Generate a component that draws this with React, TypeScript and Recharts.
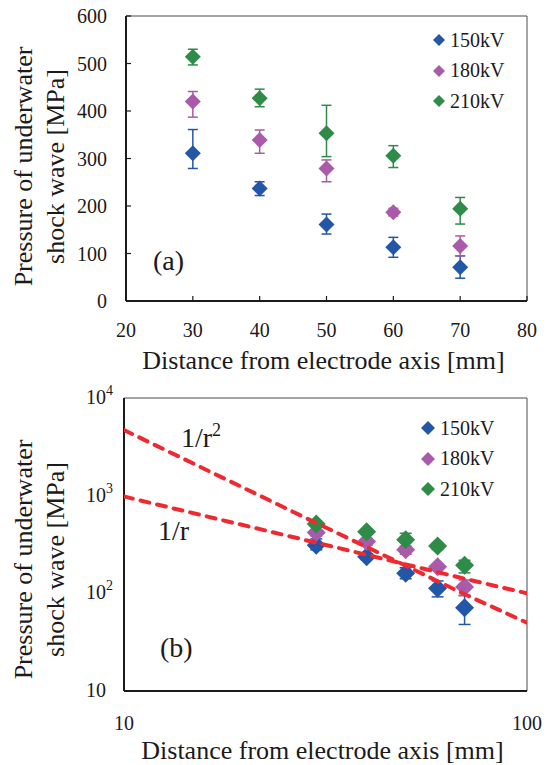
import React from "react"
import {
  ScatterChart, Scatter, XAxis, YAxis, ErrorBar, ReferenceArea, Label, Legend,
} from "recharts"

const FONT = "'Liberation Serif', 'Times New Roman', serif"
const INK = "#1c1a1b"
const RED = "#ee2a30"

// distance from electrode axis [mm]
const distances = [30, 40, 50, 60, 70]

// pressure [MPa] and error bars [minus, plus]
const p150 = [311, 237, 161, 113, 71]
const e150 = [[32, 50], [15, 14], [20, 22], [21, 21], [23, 24]]
const p180 = [420, 339, 279, 187, 116]
const e180 = [[33, 21], [28, 21], [28, 18], [8, 8], [21, 21]]
const p210 = [514, 427, 353, 306, 194]
const e210 = [[17, 16], [18, 19], [49, 59], [25, 21], [32, 24]]

// reference curves in panel (b)
const refDistances = [10, 30, 40, 50, 60, 70, 100]
const invR = [980, 330, 248, 198, 165, 141, 100]
const invR2 = [4700, 525, 298, 192, 133, 98, 50]

const linXTicks = [20, 30, 40, 50, 60, 70, 80]
const linYTicks = [0, 100, 200, 300, 400, 500, 600]
const logXTicks = [10, 100]
const logYTicks = [10, 100, 1000, 10000]

const series = [
  { name: "150kV", color: "#2456a8", values: p150, errors: e150 },
  { name: "180kV", color: "#a95ba9", values: p180, errors: e180 },
  { name: "210kV", color: "#2e8b48", values: p210, errors: e210 },
]

const points = (values: number[], errors: number[][]) =>
  distances.map((x, i) => ({ x, y: values[i], err: errors[i] }))

const refPoints = (values: number[]) => refDistances.map((x, i) => ({ x, y: values[i] }))

const diamond = (r: number) => (props: any) => {
  const { cx, cy, fill } = props
  if (cx == null || cy == null) return <g />
  return <path d={`M${cx},${cy - r}L${cx + r},${cy}L${cx},${cy + r}L${cx - r},${cy}Z`} fill={fill} />
}

const noShape = () => <g />

const textStyle = { fontFamily: FONT, fill: INK }

// label below axis, short tick mark pointing into the plot
const InsideXTick = (props: any) => {
  const { x, y, payload } = props
  const axisY = y - 22
  return (
    <g>
      <line x1={x} y1={axisY} x2={x} y2={axisY - 5} stroke={INK} strokeWidth={1.2} />
      <text x={x} y={y} dy="0.71em" textAnchor="middle" fontSize={20} {...textStyle}>{payload.value}</text>
    </g>
  )
}

const InsideYTick = (props: any) => {
  const { x, y, payload } = props
  const axisX = x + 19
  return (
    <g>
      <line x1={axisX} y1={y} x2={axisX + 5} y2={y} stroke={INK} strokeWidth={1.2} />
      <text x={x} y={y} dy="0.35em" textAnchor="end" fontSize={20} {...textStyle}>{payload.value}</text>
    </g>
  )
}

const LogXTick = (props: any) => {
  const { x, y, payload } = props
  return (
    <text x={x} y={y} dy="0.71em" textAnchor="middle" fontSize={20} {...textStyle}>{payload.value}</text>
  )
}

const LogYTick = (props: any) => {
  const { x, y, payload } = props
  const exp = Math.round(Math.log10(payload.value))
  return (
    <text x={x - 27} y={y} dy="0.3em" textAnchor="start" fontSize={20} {...textStyle}>
      10{exp > 1 && <tspan dy={-9} fontSize={14}>{exp}</tspan>}
    </text>
  )
}

const yTitle = (dy: number) => (props: any) => {
  const { viewBox } = props
  const cy = viewBox.y + viewBox.height / 2 + dy
  return (
    <g>
      <text transform={`translate(${viewBox.x + 23},${cy}) rotate(-90)`} textAnchor="middle" dy="0.35em" fontSize={26} {...textStyle}>
        Pressure of underwater
      </text>
      <text transform={`translate(${viewBox.x + 55},${cy}) rotate(-90)`} textAnchor="middle" dy="0.35em" fontSize={26} {...textStyle}>
        shock wave [MPa]
      </text>
    </g>
  )
}

const xTitle = (props: any) => {
  const { viewBox } = props
  return (
    <text x={viewBox.x + viewBox.width / 2 - 3} y={viewBox.y + 59} dy="0.35em" textAnchor="middle" fontSize={26} {...textStyle}>
      Distance from electrode axis [mm]
    </text>
  )
}

const plotText = (value: React.ReactNode, dx: number, dy: number, fromTop: boolean) => (props: any) => {
  const { viewBox } = props
  const y = fromTop ? viewBox.y + dy : viewBox.y + viewBox.height - dy
  return (
    <text x={viewBox.x + dx} y={y} dy="0.35em" fontSize={28} {...textStyle}>{value}</text>
  )
}

const legendContent = (r: number) => () => (
  <div style={{ fontFamily: FONT, fontSize: 20, color: INK }}>
    {series.map((s) => (
      <div key={s.name} style={{ display: "flex", alignItems: "center", height: 30.5 }}>
        <svg width={r * 2} height={r * 2}>
          <path d={`M${r},0L${r * 2},${r}L${r},${r * 2}L0,${r}Z`} fill={s.color} />
        </svg>
        <span style={{ marginLeft: 5 }}>{s.name}</span>
      </div>
    ))}
  </div>
)

const frameStyle = { fill: "none", fillOpacity: 0, stroke: "#4a4a4a", strokeWidth: 1 }
const axisLine = { stroke: INK, strokeWidth: 2 }

function PanelA() {
  return (
    <ScatterChart width={556} height={380} margin={{ top: 16, right: 29, bottom: 0, left: 0 }}>
      <ReferenceArea x1={20} x2={80} y1={0} y2={600} {...frameStyle} ifOverflow="visible">
        <Label content={plotText("(a)", 27, 41, false)} />
      </ReferenceArea>
      <XAxis
        type="number" dataKey="x" domain={[20, 80]} ticks={linXTicks} interval={0}
        height={79} tickSize={6} tickMargin={16} tickLine={false} axisLine={axisLine}
        tick={<InsideXTick />}
      >
        <Label content={xTitle} />
      </XAxis>
      <YAxis
        type="number" dataKey="y" domain={[0, 600]} ticks={linYTicks} interval={0}
        width={126} tickSize={6} tickMargin={13} tickLine={false} axisLine={axisLine}
        tick={<InsideYTick />}
      >
        <Label content={yTitle(8)} />
      </YAxis>
      <Legend
        layout="horizontal" verticalAlign="middle" align="center"
        wrapperStyle={{ left: 433, top: 25, width: 110 }}
        content={legendContent(6)}
      />
      {series.map((s) => (
        <Scatter key={s.name} name={s.name} data={points(s.values, s.errors)} fill={s.color}
          shape={diamond(8)} isAnimationActive={false}>
          <ErrorBar dataKey="err" direction="y" width={5} stroke={s.color} strokeWidth={1.5} />
        </Scatter>
      ))}
    </ScatterChart>
  )
}

function PanelB() {
  const dashed = { stroke: RED, strokeWidth: 4, strokeDasharray: "9 8", strokeLinecap: "round" as const }
  return (
    <ScatterChart width={556} height={385} margin={{ top: 18, right: 29, bottom: 0, left: 0 }}>
      <ReferenceArea x1={10} x2={100} y1={10} y2={10000} {...frameStyle} ifOverflow="visible">
        <Label content={plotText("(b)", 36, 44, false)} />
        <Label content={plotText(<>1/r<tspan dy={-11} fontSize={18}>2</tspan></>, 57, 39, true)} />
        <Label content={plotText("1/r", 34, 132, true)} />
      </ReferenceArea>
      <XAxis
        type="number" dataKey="x" scale="log" domain={[10, 100]} ticks={logXTicks} interval={0}
        allowDataOverflow height={74} tickSize={6} tickMargin={19} tickLine={false} axisLine={axisLine}
        tick={<LogXTick />}
      >
        <Label content={xTitle} />
      </XAxis>
      <YAxis
        type="number" dataKey="y" scale="log" domain={[10, 10000]} ticks={logYTicks} interval={0}
        allowDataOverflow width={124} tickSize={6} tickMargin={5} tickLine={false} axisLine={axisLine}
        tick={<LogYTick />}
      >
        <Label content={yTitle(15)} />
      </YAxis>
      <Legend
        layout="horizontal" verticalAlign="middle" align="center"
        wrapperStyle={{ left: 421, top: 33, width: 120 }}
        content={legendContent(7)}
      />
      {series.map((s) => (
        <Scatter key={s.name} name={s.name} data={points(s.values, s.errors)} fill={s.color}
          shape={diamond(9.5)} isAnimationActive={false}>
          <ErrorBar dataKey="err" direction="y" width={6} stroke={s.color} strokeWidth={1.5} />
        </Scatter>
      ))}
      <Scatter name="1/r" data={refPoints(invR)} fill={RED} line={dashed} lineType="joint"
        shape={noShape} legendType="none" isAnimationActive={false} />
      <Scatter name="1/r2" data={refPoints(invR2)} fill={RED} line={dashed} lineType="joint"
        shape={noShape} legendType="none" isAnimationActive={false} />
    </ScatterChart>
  )
}

export default function App() {
  return (
    <div style={{ position: "absolute", left: 0, top: 0, width: 556, height: 765, background: "#fff" }}>
      <PanelA />
      <PanelB />
    </div>
  )
}
